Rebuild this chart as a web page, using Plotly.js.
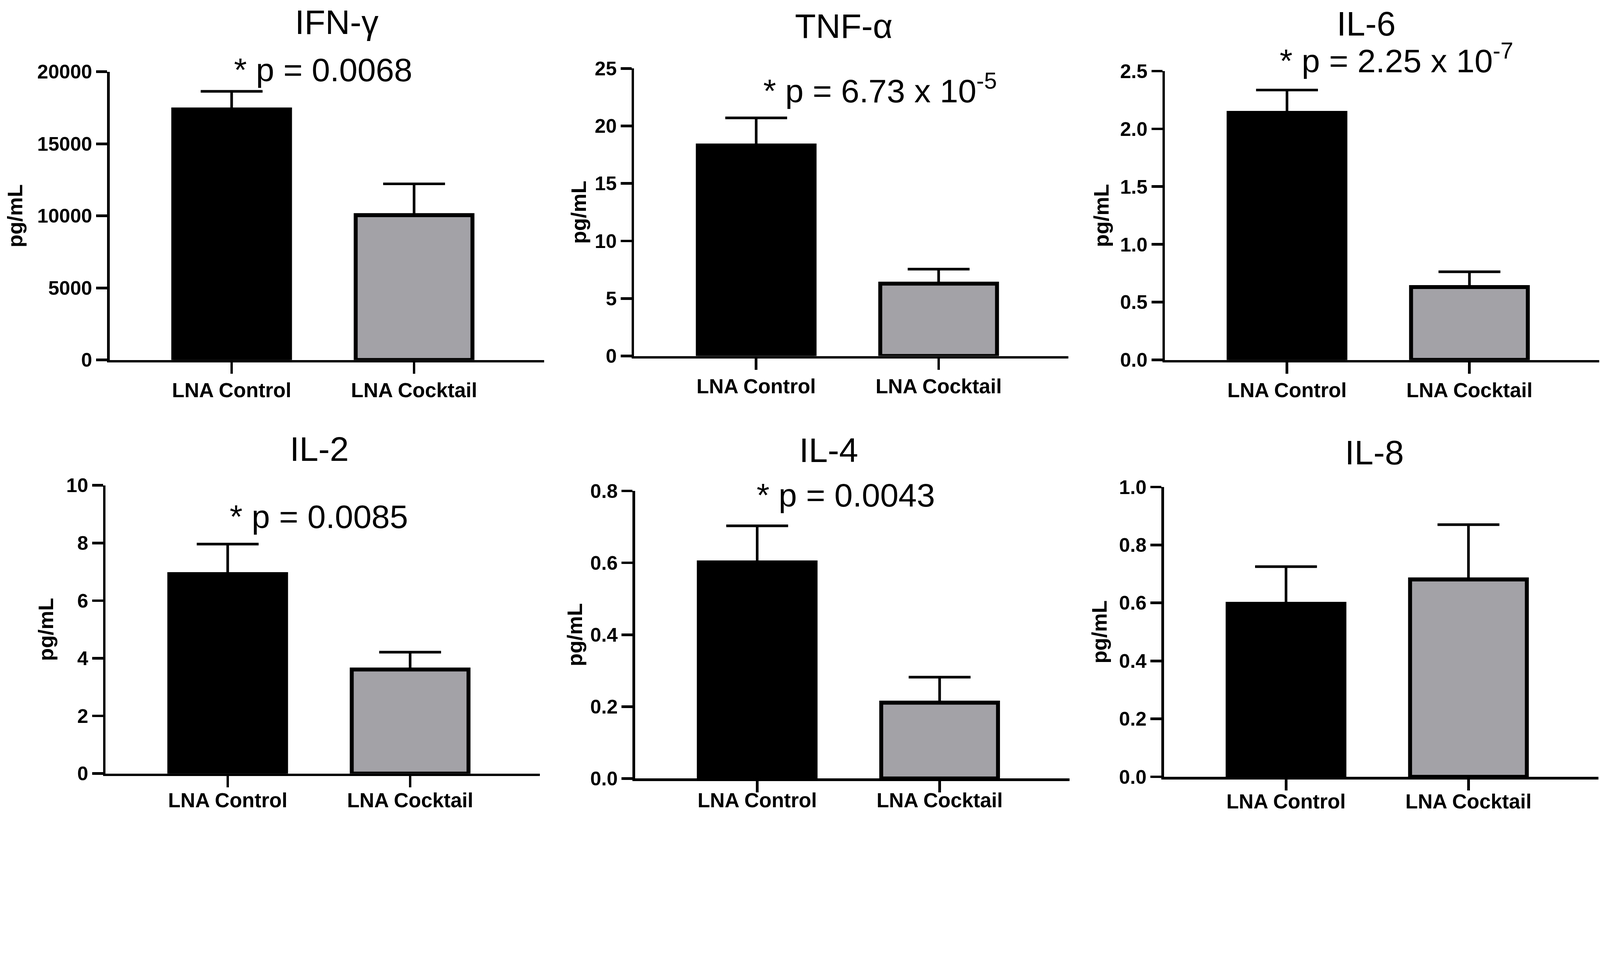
<!DOCTYPE html>
<html>
<head>
<meta charset="utf-8">
<script src="https://cdn.plot.ly/plotly-3.0.1.min.js"></script>
<style>html,body{margin:0;padding:0;background:#fff;overflow:hidden;}#chart{position:absolute;left:0;top:0;}</style>
</head>
<body>
<div id="chart"></div>
<script>
// ---- data ----
const categories = ['LNA Control', 'LNA Cocktail'];
const cytokines = ['IFN-γ', 'TNF-α', 'IL-6', 'IL-2', 'IL-4', 'IL-8'];
const controlMean = [17380, 18.30, 2.138, 6.92, 0.601, 0.597];
const controlSEM = [1260, 2.40, 0.198, 1.04, 0.102, 0.128];
const cocktailMean = [10050, 6.29, 0.631, 3.61, 0.211, 0.681];
const cocktailSEM = [2170, 1.26, 0.132, 0.60, 0.071, 0.189];
const pLabels = ['* p = 0.0068', '* p = 6.73 x 10<sup>-5</sup>', '* p = 2.25 x 10<sup>-7</sup>', '* p = 0.0085', '* p = 0.0043', ''];
const yMax = [20000, 25, 2.5, 10, 0.8, 1.0];
const yStep = [5000, 5, 0.5, 2, 0.2, 0.2];
const yFormat = ['d', 'd', '.1f', 'd', '.1f', '.1f'];
const yTitle = 'pg/mL';

// ---- layout geometry (reference pixels on the 4862 x 2476 picture) ----
const W = 4862, H = 2476;
const panelLeft = [333, 1927, 3540, 321, 1930, 3537];
const panelTop = [218, 208, 216, 1475, 1492, 1480];
const panelZero = [1094, 1082, 1094, 2351, 2366, 2361];
const axisLen = 1320;
const titlePos = [[1023, 68], [2564, 80], [4152, 72], [970, 1365], [2518, 1368], [4176, 1376]];
const pPos = [[709, 212], [2317, 270], [3886, 178], [695, 1570], [2297, 1505], null];
const standoffs = [27, 8, 17, 22, 6, 19];
const xLabelShift = [-4, -4, -4, -14, -28, -20];

// scale from reference pixels to CSS pixels of this window
const cssW = window.innerWidth || W;
const cssH = window.innerHeight || H;
const S = Math.min(cssW / W, cssH / H);
const s = v => v * S;

const FONT = 'Liberation Sans, Arial, Helvetica, sans-serif';
const GRAY = '#a3a2a7';
const px = v => v / W;
const py = v => 1 - v / H;

const data = [];
const layout = {
  width: W * S, height: H * S,
  margin: {l: 0, r: 0, t: 0, b: 0},
  paper_bgcolor: '#ffffff', plot_bgcolor: 'rgba(0,0,0,0)',
  showlegend: false,
  annotations: []
};

for (let i = 0; i < 6; i++) {
  const n = i === 0 ? '' : String(i + 1);
  data.push({
    type: 'bar',
    x: categories,
    y: [controlMean[i], cocktailMean[i]],
    width: [0.64, 0.64],
    marker: {color: ['#000000', GRAY], line: {color: '#000000', width: s(12)}},
    error_y: {
      type: 'data', symmetric: false,
      array: [controlSEM[i], cocktailSEM[i]],
      arrayminus: [0, 0],
      color: '#000000', thickness: s(8), width: s(94)
    },
    xaxis: 'x' + n, yaxis: 'y' + n,
    hoverinfo: 'skip'
  });
  layout['xaxis' + n] = {
    anchor: 'y' + n,
    domain: [px(panelLeft[i]), px(panelLeft[i] + axisLen)],
    type: 'category',
    range: [-0.669, 1.712],
    showline: true, linecolor: '#000000', linewidth: s(8),
    ticks: 'outside', ticklen: s(34), tickwidth: s(8), tickcolor: '#000000',
    ticklabelstandoff: Math.round(s(xLabelShift[i])),
    tickfont: {family: FONT, size: s(62), color: '#000000', weight: 'bold'},
    showgrid: false, zeroline: false, fixedrange: true
  };
  layout['yaxis' + n] = {
    anchor: 'x' + n,
    domain: [py(panelZero[i]), py(panelTop[i])],
    range: [0, yMax[i]],
    tickmode: 'linear', tick0: 0, dtick: yStep[i], tickformat: yFormat[i],
    showline: true, linecolor: '#000000', linewidth: s(8),
    ticks: 'outside', ticklen: s(33), tickwidth: s(8), tickcolor: '#000000',
    tickfont: {family: FONT, size: s(60), color: '#000000', weight: 'bold'},
    showgrid: false, zeroline: false, fixedrange: true,
    title: {text: yTitle, standoff: s(standoffs[i]), font: {family: FONT, size: s(64), color: '#000000', weight: 'bold'}}
  };
  layout.annotations.push({
    xref: 'paper', yref: 'paper',
    x: px(titlePos[i][0]), y: py(titlePos[i][1]),
    xanchor: 'center', yanchor: 'middle',
    text: cytokines[i], showarrow: false,
    font: {family: FONT, size: s(104), color: '#000000'}
  });
  if (pPos[i]) {
    layout.annotations.push({
      xref: 'paper', yref: 'paper',
      x: px(pPos[i][0]), y: py(pPos[i][1]),
      xanchor: 'left', yanchor: 'middle',
      text: pLabels[i], showarrow: false,
      font: {family: FONT, size: s(100), color: '#000000'}
    });
  }
}

Plotly.newPlot('chart', data, layout, {displayModeBar: false, staticPlot: true});
</script>
</body>
</html>
